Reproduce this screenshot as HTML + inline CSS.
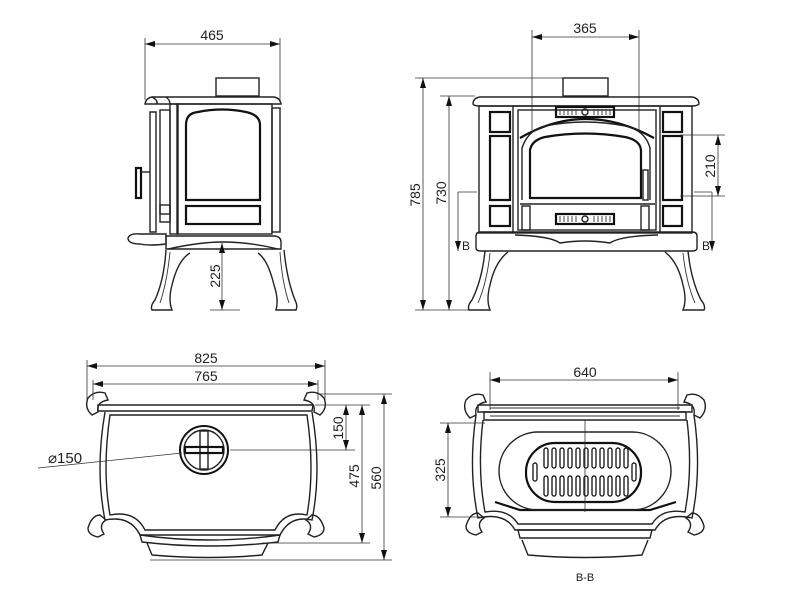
<!DOCTYPE html>
<html><head><meta charset="utf-8"><style>
html,body{margin:0;padding:0;background:#fff;}
svg{display:block;}
text{font-family:"Liberation Sans",sans-serif;font-size:14px;fill:#222;}
.o{fill:none;stroke:#222;stroke-width:1.4;}
.t{fill:none;stroke:#333;stroke-width:0.9;}
.d{fill:none;stroke:#333;stroke-width:0.8;}
.k{fill:none;stroke:#111;stroke-width:2.2;}
</style></head><body>
<svg width="800" height="600" viewBox="0 0 800 600" xmlns="http://www.w3.org/2000/svg">
<defs>
<marker id="a" viewBox="0 0 10 6" refX="10" refY="3" markerWidth="10" markerHeight="6" orient="auto-start-reverse" markerUnits="userSpaceOnUse"><path d="M0,0 L10,3 L0,6 z" fill="#111"/></marker>
</defs>

<!-- ===== SIDE VIEW ===== -->
<line class="d" x1="145" y1="38" x2="145" y2="100"/><line class="d" x1="280" y1="38" x2="280" y2="100"/>
<line class="d" x1="145" y1="44" x2="280" y2="44" marker-start="url(#a)" marker-end="url(#a)"/>
<text x="212" y="40" text-anchor="middle">465</text>
<rect class="o" x="216" y="78" width="43" height="18"/>
<path class="o" d="M145,104 Q146,98 152,97 L274,97 Q280,98 281,104 Z"/>
<path class="o" d="M152,97 Q158,100 157,104 M166,97 Q170,100 170,104"/>
<rect class="o" x="170" y="104" width="8" height="130"/>
<rect class="o" x="177" y="104" width="95" height="130"/>
<path class="k" d="M186,200 L186,125 Q186,113 198,112 Q222,107 246,112 Q260,115 260,125 L260,200 Z"/>
<rect class="k" x="186" y="206" width="74" height="18"/>
<rect class="o" x="272" y="108" width="8" height="124"/>
<path class="o" d="M150,112 L156,112 L156,232 L150,232 Z"/>
<rect class="o" x="160" y="110" width="10" height="104"/>
<rect class="o" x="160" y="205" width="10" height="17"/>
<rect class="k" x="136" y="168" width="5" height="30"/>
<line class="o" x1="141" y1="172" x2="150" y2="172"/>
<path class="o" d="M128,238 Q130,233 140,234 L166,234 L166,244 Q150,246 140,244 Q128,244 128,238 Z"/>
<path class="o" d="M166,236 L275,236 Q281,237 281,242 L281,249 L166,249 Z"/>
<path class="o" d="M168,249 Q200,242 222,242 Q250,242 278,249"/>
<path class="o" d="M166,250 Q164,280 155,300 Q150,306 152,310 L172,310 Q168,300 172,285 Q178,260 190,253"/>
<path class="t" d="M170,252 Q167,282 160,303"/>
<path class="o" d="M284,250 Q287,280 295,300 Q298,306 296,310 L276,310 Q279,300 274,285 Q268,260 258,253"/>
<path class="t" d="M280,252 Q282,282 289,303"/>
<line class="d" x1="222" y1="243" x2="222" y2="310" marker-start="url(#a)" marker-end="url(#a)"/>
<line class="d" x1="210" y1="310" x2="240" y2="310"/>
<text transform="translate(220,276) rotate(-90)" text-anchor="middle">225</text>

<!-- ===== FRONT VIEW ===== -->
<line class="d" x1="532" y1="30" x2="532" y2="130"/><line class="d" x1="639" y1="30" x2="639" y2="130"/>
<line class="d" x1="532" y1="37" x2="639" y2="37" marker-start="url(#a)" marker-end="url(#a)"/>
<text x="585" y="33" text-anchor="middle">365</text>
<line class="d" x1="415" y1="78" x2="605" y2="78"/>
<line class="d" x1="440" y1="96" x2="475" y2="96"/>
<line class="d" x1="415" y1="310" x2="470" y2="310"/>
<line class="d" x1="423" y1="78" x2="423" y2="310" marker-start="url(#a)" marker-end="url(#a)"/>
<text transform="translate(420,195) rotate(-90)" text-anchor="middle">785</text>
<line class="d" x1="449" y1="96" x2="449" y2="310" marker-start="url(#a)" marker-end="url(#a)"/>
<text transform="translate(446,193) rotate(-90)" text-anchor="middle">730</text>
<rect class="o" x="563" y="78" width="45" height="18"/>
<path class="o" d="M473,104 Q473,98 480,97 L692,97 Q699,98 699,104 Q697,106 692,106 L480,106 Q474,106 473,104 Z"/>
<rect class="o" x="479" y="106" width="213" height="127"/>
<line class="o" x1="513" y1="106" x2="513" y2="233"/><line class="o" x1="660" y1="106" x2="660" y2="233"/>
<rect class="k" x="490" y="112" width="20" height="20"/>
<rect class="k" x="490" y="136" width="20" height="64"/>
<rect class="k" x="490" y="206" width="20" height="20"/>
<rect class="k" x="663" y="112" width="19" height="20"/>
<rect class="k" x="663" y="136" width="19" height="64"/>
<rect class="k" x="663" y="206" width="19" height="20"/>
<rect class="o" x="518" y="110" width="138" height="120"/>
<path class="k" d="M520,138 Q585,100 654,138"/>
<path class="o" d="M522,200 L522,148 Q528,130 545,126 Q585,118 625,126 Q645,130 650,148 L650,200"/>
<path class="k" d="M530,198 L530,150 Q532,140 545,137 Q585,130 625,137 Q640,140 641,150 L641,198 Z"/>
<rect class="o" x="643" y="170" width="5" height="30"/>
<line class="o" x1="520" y1="204" x2="655" y2="204"/>
<rect class="o" x="522" y="206" width="8" height="24"/><rect class="o" x="641" y="206" width="8" height="24"/>
<rect class="k" x="556" y="107" width="58" height="10"/>
<path class="t" d="M560,109v6M564,109v6M568,109v6M572,109v6M576,109v6M594,109v6M598,109v6M602,109v6M606,109v6M610,109v6"/>
<circle class="o" cx="585" cy="112" r="3"/>
<rect class="k" x="556" y="214" width="58" height="10"/>
<path class="t" d="M560,216v6M564,216v6M568,216v6M572,216v6M576,216v6M594,216v6M598,216v6M602,216v6M606,216v6M610,216v6"/>
<circle class="o" cx="585" cy="219" r="3"/>
<path class="o" d="M476,236 Q476,232 481,232 L692,232 Q697,232 697,236 L697,248 Q697,251 692,251 L481,251 Q476,251 476,248 Z"/>
<path class="o" d="M515,235 Q550,236 560,243 Q585,239 610,243 Q620,236 658,235"/>
<path class="o" d="M485,251 Q482,280 472,300 Q467,306 469,310 L490,310 Q486,300 490,285 Q495,262 508,252"/>
<path class="t" d="M490,253 Q487,282 478,303"/>
<path class="o" d="M688,251 Q691,280 701,300 Q706,306 704,310 L683,310 Q687,300 683,285 Q678,262 665,252"/>
<path class="t" d="M683,253 Q686,282 695,303"/>
<line class="d" x1="680" y1="135" x2="725" y2="135"/><line class="d" x1="680" y1="196" x2="725" y2="196"/>
<line class="d" x1="718" y1="135" x2="718" y2="196" marker-start="url(#a)" marker-end="url(#a)"/>
<text transform="translate(715,166) rotate(-90)" text-anchor="middle">210</text>
<line class="d" x1="458" y1="192" x2="477" y2="192"/>
<line class="d" x1="458" y1="192" x2="458" y2="251" marker-end="url(#a)"/>
<text x="462" y="250" style="font-size:12px">B</text>
<line class="d" x1="694" y1="192" x2="712" y2="192"/>
<line class="d" x1="712" y1="192" x2="712" y2="251" marker-end="url(#a)"/>
<text x="702" y="250" style="font-size:12px">B</text>

<!-- ===== TOP VIEW ===== -->
<line class="d" x1="87" y1="360" x2="87" y2="400"/><line class="d" x1="325" y1="360" x2="325" y2="400"/>
<line class="d" x1="87" y1="366" x2="325" y2="366" marker-start="url(#a)" marker-end="url(#a)"/>
<text x="206" y="363" text-anchor="middle">825</text>
<line class="d" x1="93" y1="380" x2="93" y2="400"/><line class="d" x1="318" y1="380" x2="318" y2="400"/>
<line class="d" x1="93" y1="384" x2="318" y2="384" marker-start="url(#a)" marker-end="url(#a)"/>
<text x="206" y="381" text-anchor="middle">765</text>
<path class="o" d="M98,405 L313,405 L312,411 L98,411 Z"/>
<path class="o" d="M105,412 Q95,470 105,520 Q130,515 140,535 L280,535 Q290,515 312,520 Q322,470 312,412"/>
<path class="o" d="M110,415 Q102,470 110,515 Q135,510 145,530 L275,530 Q285,510 307,515 Q315,470 307,415 Z"/>
<path class="o" d="M140,535 Q210,545 280,535 L278,542 Q210,550 142,542 Z"/>
<path class="o" d="M147,543 L152,555 Q210,560 262,555 L268,543"/>
<path class="o" d="M88,398 Q95,390 105,393 L108,400 Q96,402 98,412 L92,415 Q84,408 88,398 Z"/>
<path class="o" d="M324,398 Q317,390 307,393 L304,400 Q316,402 314,412 L320,415 Q328,408 324,398 Z"/>
<path class="o" d="M88,528 Q92,515 100,515 L106,520 Q98,525 104,534 L98,537 Q88,535 88,528 Z"/>
<path class="o" d="M324,528 Q320,515 312,515 L306,520 Q314,525 308,534 L314,537 Q324,535 324,528 Z"/>
<circle cx="204" cy="450" r="24" fill="none" stroke="#111" stroke-width="2"/>
<circle class="o" cx="204" cy="450" r="20"/>
<rect class="o" x="200" y="431" width="8" height="38"/>
<rect class="k" x="185" y="447" width="38" height="6"/>
<line class="d" x1="230" y1="450" x2="355" y2="450"/>
<line class="d" x1="38" y1="468" x2="182" y2="453"/>
<text x="48" y="463" style="font-size:15px">⌀150</text>
<line class="d" x1="315" y1="405" x2="370" y2="405"/>
<line class="d" x1="320" y1="394" x2="392" y2="394"/>
<line class="d" x1="262" y1="543" x2="370" y2="543"/>
<line class="d" x1="150" y1="560" x2="392" y2="560"/>
<line class="d" x1="346" y1="405" x2="346" y2="450" marker-start="url(#a)" marker-end="url(#a)"/>
<text transform="translate(343,428) rotate(-90)" text-anchor="middle">150</text>
<line class="d" x1="362" y1="405" x2="362" y2="543" marker-start="url(#a)" marker-end="url(#a)"/>
<text transform="translate(359,476) rotate(-90)" text-anchor="middle">475</text>
<line class="d" x1="384" y1="394" x2="384" y2="560" marker-start="url(#a)" marker-end="url(#a)"/>
<text transform="translate(381,478) rotate(-90)" text-anchor="middle">560</text>

<!-- ===== B-B SECTION ===== -->
<line class="d" x1="490" y1="372" x2="490" y2="410"/><line class="d" x1="678" y1="372" x2="678" y2="410"/>
<line class="d" x1="490" y1="380" x2="678" y2="380" marker-start="url(#a)" marker-end="url(#a)"/>
<text x="585" y="377" text-anchor="middle">640</text>
<path class="o" d="M478,405 L692,405 L692,412 L478,412 Z"/>
<path class="o" d="M484,412 L686,412 L686,420 L484,420 Z"/>
<path class="t" d="M490,408h190M490,416h190"/>
<path class="o" d="M476,415 Q468,470 478,518 Q505,512 515,530 L655,530 Q665,512 692,518 Q702,470 694,415"/>
<path class="o" d="M483,420 Q477,470 485,512 Q508,508 518,524 L652,524 Q662,508 685,512 Q693,470 687,420"/>
<path class="k" d="M495,502 L520,510 L650,510 L676,502"/>
<path class="o" d="M518,530 L652,530 L650,538 L520,538 Z"/>
<path class="o" d="M522,540 L528,555 Q585,560 642,555 L648,540"/>
<rect class="o" x="499" y="432" width="172" height="78" rx="39"/>
<rect class="k" x="526" y="443" width="115" height="59" rx="29"/>
<g class="o">
<rect x="544" y="448" width="4" height="20" rx="2"/><rect x="552" y="448" width="4" height="20" rx="2"/><rect x="560" y="448" width="4" height="20" rx="2"/><rect x="568" y="448" width="4" height="20" rx="2"/><rect x="576" y="448" width="4" height="20" rx="2"/><rect x="584" y="448" width="4" height="20" rx="2"/><rect x="592" y="448" width="4" height="20" rx="2"/><rect x="600" y="448" width="4" height="20" rx="2"/><rect x="608" y="448" width="4" height="20" rx="2"/><rect x="616" y="448" width="4" height="20" rx="2"/><rect x="624" y="448" width="4" height="20" rx="2"/>
<rect x="544" y="476" width="4" height="20" rx="2"/><rect x="552" y="476" width="4" height="20" rx="2"/><rect x="560" y="476" width="4" height="20" rx="2"/><rect x="568" y="476" width="4" height="20" rx="2"/><rect x="576" y="476" width="4" height="20" rx="2"/><rect x="584" y="476" width="4" height="20" rx="2"/><rect x="592" y="476" width="4" height="20" rx="2"/><rect x="600" y="476" width="4" height="20" rx="2"/><rect x="608" y="476" width="4" height="20" rx="2"/><rect x="616" y="476" width="4" height="20" rx="2"/><rect x="624" y="476" width="4" height="20" rx="2"/>
<rect x="533" y="463" width="4" height="18" rx="2"/><rect x="632" y="463" width="4" height="18" rx="2"/>
</g>
<line class="d" x1="585" y1="420" x2="585" y2="512"/>
<path class="o" d="M466,400 Q473,392 483,395 L486,402 Q474,404 476,415 L470,418 Q462,410 466,400 Z"/>
<path class="o" d="M704,400 Q697,392 687,395 L684,402 Q696,404 694,415 L700,418 Q708,410 704,400 Z"/>
<path class="o" d="M466,526 Q470,513 478,513 L484,518 Q476,523 482,532 L476,535 Q466,533 466,526 Z"/>
<path class="o" d="M704,526 Q700,513 692,513 L686,518 Q694,523 688,532 L694,535 Q704,533 704,526 Z"/>
<line class="d" x1="440" y1="423" x2="485" y2="423"/><line class="d" x1="440" y1="517" x2="480" y2="517"/>
<line class="d" x1="448" y1="423" x2="448" y2="517" marker-start="url(#a)" marker-end="url(#a)"/>
<text transform="translate(445,470) rotate(-90)" text-anchor="middle">325</text>
<text x="585" y="581" text-anchor="middle" style="font-size:11px">B-B</text>
</svg>
</body></html>
